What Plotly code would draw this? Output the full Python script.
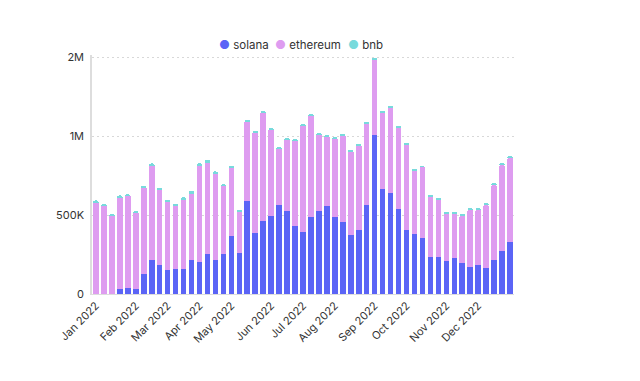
import pandas as pd
import plotly.graph_objects as go

weeks = pd.date_range("2022-01-03", periods=53, freq="7D")

solana = [0, 0, 0, 34000, 40000, 34000, 129000, 217000, 186000, 154000, 160000,
          160000, 217000, 200000, 251000, 217000, 251000, 369000, 262000, 586000,
          388000, 460000, 496000, 563000, 523000, 432000, 392000, 489000, 527000,
          559000, 489000, 456000, 373000, 407000, 563000, 1008000, 665000, 641000,
          540000, 407000, 382000, 352000, 232000, 232000, 211000, 226000, 198000,
          171000, 181000, 165000, 215000, 270000, 331000]

ethereum = [576000, 555000, 496000, 578000, 578000, 479000, 540000, 593000, 472000,
            426000, 397000, 435000, 418000, 612000, 580000, 547000, 430000, 431000,
            263000, 505000, 635000, 690000, 546000, 361000, 458000, 538000, 676000,
            638000, 481000, 435000, 496000, 550000, 528000, 536000, 519000, 479000,
            485000, 538000, 517000, 540000, 399000, 452000, 388000, 369000, 300000,
            285000, 298000, 365000, 355000, 400000, 477000, 549000, 534000]

bnb = [17000, 17000, 12000, 12000, 13000, 12000, 17000, 17000, 13000, 15000, 15000,
       17000, 17000, 15000, 17000, 12000, 13000, 12000, 7000, 8000, 8000, 8000,
       8000, 8000, 8000, 8000, 8000, 8000, 8000, 8000, 8000, 8000, 8000, 8000,
       8000, 7000, 7000, 7000, 7000, 6000, 6000, 6000, 6000, 6000, 6000, 6000,
       6000, 6000, 6000, 6000, 6000, 6000, 6000]

month_ticks = ["2022-01-03", "2022-02-07", "2022-03-07", "2022-04-04", "2022-05-02",
               "2022-06-06", "2022-07-04", "2022-08-01", "2022-09-05", "2022-10-03",
               "2022-11-07", "2022-12-05"]
month_labels = ["Jan 2022", "Feb 2022", "Mar 2022", "Apr 2022", "May 2022", "Jun 2022",
                "Jul 2022", "Aug 2022", "Sep 2022", "Oct 2022", "Nov 2022", "Dec 2022"]

y_ticks = [0, 500000, 1000000, 1500000]
y_labels = ["0", "500K", "1M", "2M"]

series_names = ["solana", "ethereum", "bnb"]
series_values = [solana, ethereum, bnb]
series_colors = ["#5B64F6", "#DE9CF0", "#78DADC"]
legend_x = [0.296, 0.428, 0.602]

fig = go.Figure()
for name, vals, color in zip(series_names, series_values, series_colors):
    fig.add_trace(go.Bar(x=weeks, y=vals, name=name, marker_color=color,
                         marker_line_width=0))

annotations = []
for name, color, lx in zip(series_names, series_colors, legend_x):
    annotations.append(dict(
        xref="paper", yref="paper", x=lx, y=1.042, xanchor="left", yanchor="middle",
        showarrow=False,
        text=f"<span style='color:{color};font-size:12px'>●</span> {name}",
        font=dict(size=11.5, color="#333333"),
    ))

fig.update_layout(
    width=640, height=381,
    barmode="stack", bargap=0.3, barcornerradius=2,
    plot_bgcolor="white", paper_bgcolor="white",
    margin=dict(l=84, r=134, t=47, b=95),
    font=dict(family="Inter, sans-serif", size=12, color="#333333"),
    showlegend=False,
    annotations=annotations,
    xaxis=dict(type="date", tickvals=month_ticks, ticktext=month_labels,
               tickangle=-45, showgrid=False, showline=True, linecolor="#dddddd",
               linewidth=1, ticks="", tickfont=dict(size=11)),
    yaxis=dict(range=[0, 1513000], tickvals=y_ticks, ticktext=y_labels,
               showgrid=True, gridcolor="#d8d8d8", griddash="2px,3px",
               showline=True, linecolor="#dddddd", linewidth=1.5,
               zeroline=False, ticks="", ticklabelstandoff=4,
               tickfont=dict(size=11)),
)

fig.write_html("out.html")
